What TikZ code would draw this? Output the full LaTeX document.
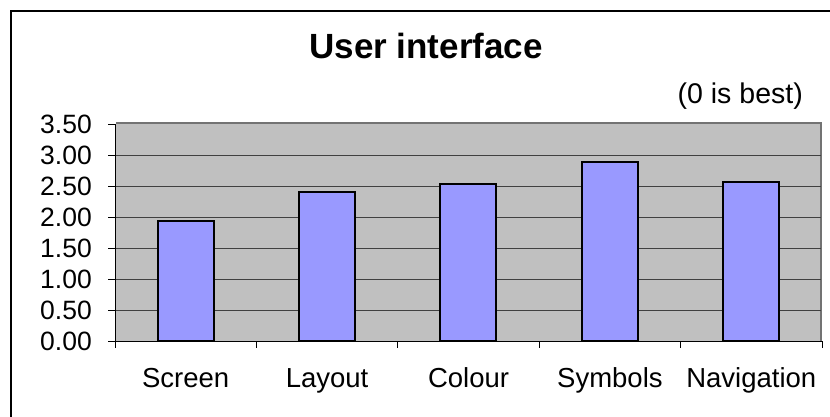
\documentclass[tikz,border=0pt]{standalone}
\usepackage{fontspec}
\setmainfont{Liberation Sans}
\begin{document}
\begin{tikzpicture}[x=1pt,y=-1pt,
  bar/.style={draw=black,line width=2pt,fill=barblue},
  grid/.style={draw=black!75,line width=1pt},
  axis/.style={draw=black,line width=1pt},
  ylab/.style={anchor=east,inner sep=0pt,font=\fontsize{26.5}{26.5}\selectfont},
  xlab/.style={anchor=base,inner sep=0pt,font=\fontsize{27.5}{27.5}\selectfont}]
\definecolor{barblue}{HTML}{9999FF}
\definecolor{plotgray}{HTML}{C0C0C0}
\useasboundingbox (0,0) rectangle (830,416);
\fill[white] (0,0) rectangle (830,416);
\draw[line width=1.3pt] (11,11) rectangle (835,422);
% title
\node[inner sep=0pt,font=\bfseries\fontsize{35}{35}\selectfont] (title) at (426,46) {User interface};
\node[anchor=base east,inner sep=0pt,font=\fontsize{28.5}{28.5}\selectfont] (note) at (803,103) {(0 is best)};
% plot area
\fill[plotgray] (115,124) rectangle (822,341);
\draw[black!55,line width=2pt] (116,123) -- (821,123) -- (821,341);
\foreach \v in {0.5,1,...,3.0} {
  \draw[grid] (115,{341-62*\v}) -- (821,{341-62*\v});
}
% bars
\foreach \c/\v [count=\i] in {185.5/1.93,326.5/2.40,468/2.53,609.5/2.88,751/2.57} {
  \draw[bar] ({\c-28},341) rectangle ({\c+28},{341-62*\v});
}
% axes
\draw[axis] (115,124) -- (115,341) -- (822,341);
\foreach \v/\t in {0/0.00,0.5/0.50,1/1.00,1.5/1.50,2/2.00,2.5/2.50,3/3.00,3.5/3.50} {
  \draw[axis] (108,{341-62*\v}) -- (115,{341-62*\v});
  \node[ylab] at (92,{341-62*\v}) {\t};
}
\foreach \x in {115,256.4,397.8,539.2,680.6,822} {
  \draw[axis] (\x,341) -- (\x,348);
}
\foreach \c/\t in {185.7/Screen,327.1/Layout,468.5/Colour,609.9/Symbols,751.3/Navigation} {
  \node[xlab] at (\c,387) {\t};
}
\end{tikzpicture}
\end{document}
